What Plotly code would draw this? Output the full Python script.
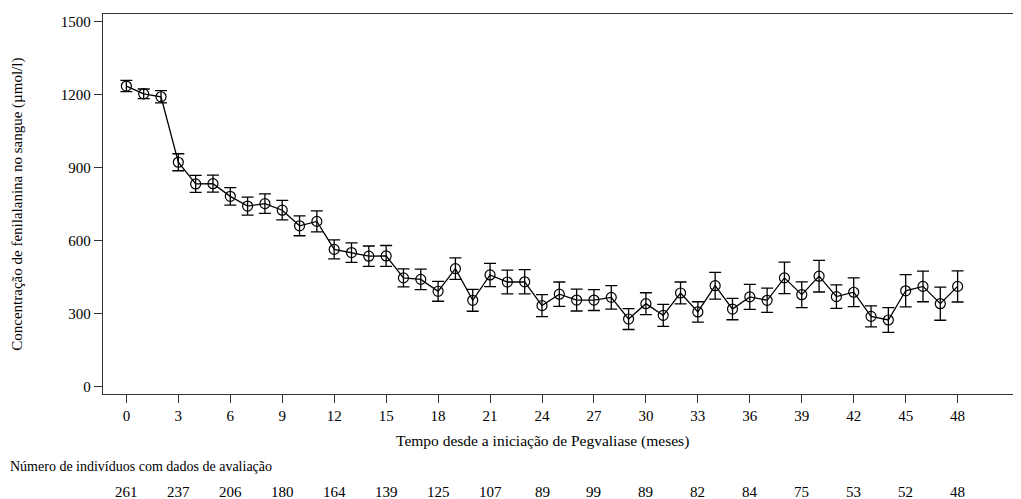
import plotly.graph_objects as go

months = list(range(49))
phe_mean = [1234, 1202, 1190, 921, 832, 833, 781, 741, 751, 724,
            660, 678, 563, 550, 535, 536, 446, 440, 391, 484,
            354, 458, 429, 430, 332, 379, 355, 355, 366, 277,
            340, 292, 384, 306, 414, 318, 368, 354, 446, 377,
            453, 369, 387, 288, 273, 393, 411, 340, 411]
phe_err = [23, 20, 25, 35, 35, 35, 36, 37, 40, 40,
           41, 43, 39, 40, 42, 43, 37, 42, 41, 44,
           45, 48, 49, 50, 45, 50, 45, 43, 48, 43,
           45, 45, 45, 42, 55, 44, 51, 50, 65, 53,
           65, 48, 59, 43, 51, 66, 63, 68, 64]

tick_months = list(range(0, 49, 3))
n_subjects = [261, 237, 206, 180, 164, 139, 125, 107, 89, 99, 89, 82, 84, 75, 53, 52, 48]

y_ticks = [0, 300, 600, 900, 1200, 1500]

FONT = "Liberation Serif, Times New Roman, serif"

fig = go.Figure()
fig.add_trace(go.Scatter(
    x=months, y=phe_mean, mode="lines+markers",
    line=dict(color="black", width=1.3),
    marker=dict(symbol="circle-open", size=10, color="black", line=dict(width=1.2)),
    error_y=dict(type="data", array=phe_err, visible=True, color="black", thickness=1.3, width=6),
    showlegend=False, hoverinfo="x+y",
))

annotations = []
for m, n in zip(tick_months, n_subjects):
    annotations.append(dict(x=m, y=-0.258, xref="x", yref="paper", text=str(n),
                            showarrow=False, xanchor="center", yanchor="middle",
                            font=dict(family=FONT, size=15, color="black")))
annotations.append(dict(x=-0.104, y=-0.192, xref="paper", yref="paper",
                        text="Número de indivíduos com dados de avaliação",
                        showarrow=False, xanchor="left", yanchor="middle",
                        font=dict(family=FONT, size=14, color="black")))
annotations.append(dict(x=0.479, y=-0.124, xref="paper", yref="paper",
                        text="Tempo desde a iniciação de Pegvaliase (meses)",
                        showarrow=False, xanchor="center", yanchor="middle",
                        font=dict(family=FONT, size=15.5, color="black")))
annotations.append(dict(x=-0.094, y=0.50, xref="paper", yref="paper",
                        text="Concentração de fenilalanina no sangue (µmol/l)",
                        textangle=-90, showarrow=False, xanchor="center", yanchor="middle",
                        font=dict(family=FONT, size=15, color="black")))

fig.update_layout(
    width=1021, height=499,
    margin=dict(l=95, r=8, t=6, b=113),
    paper_bgcolor="white", plot_bgcolor="white",
    font=dict(family=FONT, size=15, color="black"),
    annotations=annotations,
    xaxis=dict(range=[-1.35, 51.66], tickvals=tick_months, ticktext=[str(t) for t in tick_months],
               showgrid=False, zeroline=False, showline=True, linecolor="#333", linewidth=1.3,
               mirror=True, ticks="outside", ticklen=8, tickcolor="#333", tickwidth=1.3,
               tickfont=dict(family=FONT, size=15, color="black")),
    yaxis=dict(range=[-31, 1530], tickvals=y_ticks, showgrid=False, zeroline=False,
               showline=True, linecolor="#333", linewidth=1.3, mirror=False,
               ticks="outside", ticklen=8, tickcolor="#333", tickwidth=1.3,
               tickfont=dict(family=FONT, size=15, color="black")),
)

fig.write_html("out.html")
